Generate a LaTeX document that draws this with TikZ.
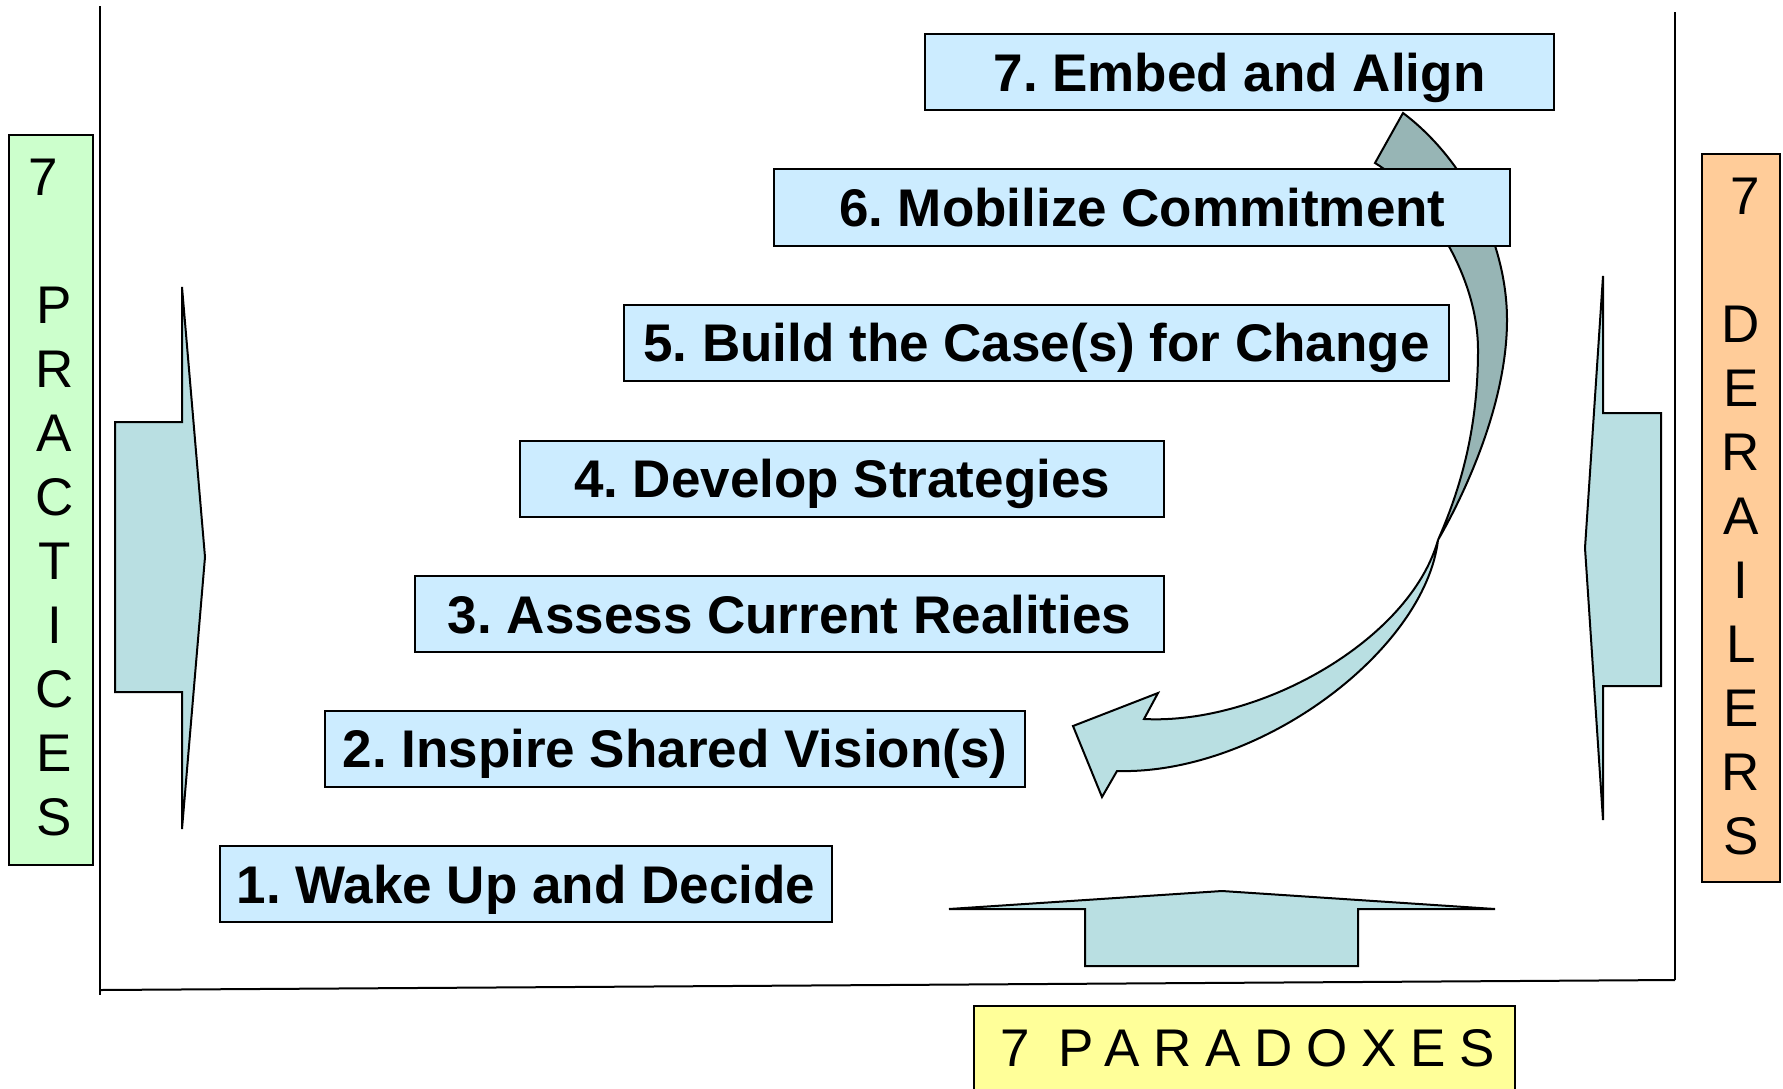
\documentclass[tikz,border=0pt]{standalone}
\usepackage{fontspec}
\setmainfont{Liberation Sans}
\frenchspacing
\definecolor{stagefill}{HTML}{CCECFF}
\definecolor{pracfill}{HTML}{CCFFCC}
\definecolor{derfill}{HTML}{FFCC99}
\definecolor{parfill}{HTML}{FFFF99}
\definecolor{arrowfill}{HTML}{B9DFE2}
\definecolor{arrowback}{HTML}{97B5B5}
\begin{document}
\begin{tikzpicture}[x=0.5pt,y=-0.5pt,
  stage/.style={draw=black, line width=1pt, fill=stagefill, inner sep=0pt,
    minimum height=38.2pt,
    font=\fontsize{26.5pt}{32pt}\selectfont\bfseries,
    text height=23.9pt, text depth=4.8pt},
  sidebox/.style={draw=black, line width=1pt, inner sep=0pt},
  sidetext/.style={align=center, inner sep=0pt,
    font=\fontsize{26.5pt}{32pt}\selectfont},
  frameline/.style={draw=black, line width=1pt},
  blockarrow/.style={draw=black, line width=1pt, fill=arrowfill, line join=miter},
  bandfront/.style={draw=black, line width=1pt, fill=arrowfill, line join=miter},
  bandback/.style={draw=black, line width=1pt, fill=arrowback, line join=miter},
]
\useasboundingbox (0,0) rectangle (1783,1088);

% outer frame: two uprights joined by a slightly tilted base line
\coordinate (ltop) at (100,6);
\coordinate (lbot) at (100,995);
\coordinate (lbase) at (100,990);
\coordinate (rtop) at (1675,12);
\coordinate (rbase) at (1675,980);
\draw[frameline] (ltop) -- (lbot);
\draw[frameline] (rtop) -- (rbase);
\draw[frameline] (lbase) -- (rbase);

% wide block arrows pointing into the frame
\draw[blockarrow] (182,287) -- (205,557) -- (182,829) -- (182,692) -- (115,692)
  -- (115,422) -- (182,422) -- cycle;
\draw[blockarrow] (1603,276) -- (1585,548) -- (1603,820) -- (1603,686) -- (1661,686)
  -- (1661,413) -- (1603,413) -- cycle;
\draw[blockarrow] (949,909) -- (1222,891) -- (1495,909) -- (1358,909) -- (1358,966)
  -- (1085,966) -- (1085,909) -- cycle;

% twisted curved arrow returning from the top stage to the second one
\coordinate (twist) at (1438,540);
\draw[bandback] (1375,163) -- (1403,113)
  .. controls (1463,158) and (1507,240) .. (1507,320)
  .. controls (1507,400) and (1468,488) .. (twist)
  .. controls (1460,490) and (1478,430) .. (1478,350)
  .. controls (1478,270) and (1420,190) .. (1375,163) -- cycle;
\draw[bandfront] (twist)
  .. controls (1410,640) and (1260,725) .. (1144,719)
  -- (1158,693) -- (1073,726) -- (1102,797) -- (1117,771)
  .. controls (1260,775) and (1425,650) .. (twist) -- cycle;

% the seven stages
\node[stage, minimum width=314.95pt] (s7) at (1239.5,72.2) {7. Embed and Align};
\node[stage, minimum width=367.85pt] (s6) at (1142.3,207.5) {6. Mobilize Commitment};
\node[stage, minimum width=412.2pt] (s5) at (1036.5,342.8) {5. Build the Case(s) for Change};
\node[stage, minimum width=322.35pt] (s4) at (842.1,478.8) {4. Develop Strategies};
\node[stage, minimum width=374.7pt] (s3) at (789.7,614.1) {3. Assess Current Realities};
\node[stage, minimum width=349.65pt] (s2) at (674.9,748.8) {2. Inspire Shared Vision(s)};
\node[stage, minimum width=306.45pt] (s1) at (526.0,884.1) {1. Wake Up and Decide};

% side and bottom labels
\node[sidebox, fill=pracfill, minimum width=42pt, minimum height=365pt] (practices) at (51,500) {};
\node[sidetext] (practicestext) at (54.5,498)
  {7\kern0.43em\\~\\P\\R\\A\\C\\T\\I\\C\\E\\S};
\node[sidebox, fill=derfill, minimum width=39pt, minimum height=364pt] (derailers) at (1741,518) {};
\node[sidetext] (derailerstext) at (1741,517)
  {\kern0.17em7\\~\\D\\E\\R\\A\\I\\L\\E\\R\\S};
\node[sidebox, fill=parfill, minimum width=270.5pt, minimum height=42pt] (paradoxes) at (1244.5,1048) {};
\node[sidetext] (paradoxestext) at (1248,1048)
  {\addfontfeature{LetterSpace=26}7 PARADOXES};
\end{tikzpicture}
\end{document}
